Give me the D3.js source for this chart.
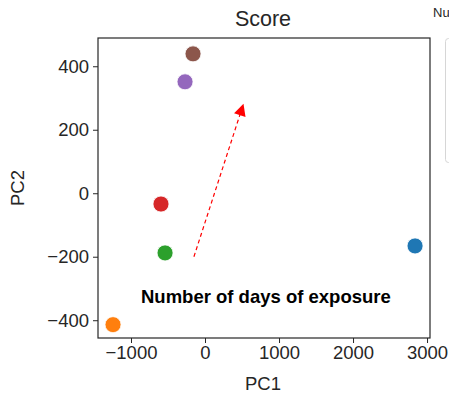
<!DOCTYPE html>
<html>
<head>
<meta charset="utf-8">
<script src="https://cdn.jsdelivr.net/npm/d3@7"></script>
<style>
  body { margin: 0; background: #fff; }
  text { font-family: "Liberation Sans", Arial, sans-serif; fill: #262626; }
</style>
</head>
<body>
<svg id="chart" width="449" height="394"></svg>
<script>
// sample scores on the first two components
const samples = ["s1", "s2", "s3", "s4", "s5", "s6"];
const pc1 = [2838, -1243, -540, -595, -270, -162];
const pc2 = [-166, -414, -188, -34, 351, 439];
const colours = ["#1f77b4", "#ff7f0e", "#2ca02c", "#d62728", "#9467bd", "#8c564b"];

const xTicks = [-1000, 0, 1000, 2000, 3000];
const yTicks = [-400, -200, 0, 200, 400];

// arrow start / end in data units
const arrowFrom = [-150, -200];
const arrowTo = [520, 282];
const noteText = "Number of days of exposure";
const notePos = [-865, -345];

const margin = { top: 38, right: 19, bottom: 56, left: 98 };
const width = 449, height = 394;

const svg = d3.select("#chart");

const x = d3.scaleLinear()
    .domain([-1446, 3040])
    .range([margin.left, width - margin.right]);
const y = d3.scaleLinear()
    .domain([-456, 489])
    .range([height - margin.bottom, margin.top]);

// legend frame that sits past the edge of the figure
svg.append("rect")
    .attr("x", 445.5).attr("y", 38.5)
    .attr("width", 40).attr("height", 124)
    .attr("rx", 3)
    .attr("fill", "#fff")
    .attr("stroke", "#d6d6d6");
svg.append("text")
    .attr("x", 433).attr("y", 17)
    .attr("font-size", 13)
    .text("Nu");

const fmt = d => d3.format("d")(d).replace("-", "\u2212");

// axes
const xAxis = svg.append("g")
    .attr("transform", `translate(0,${height - margin.bottom})`)
    .call(d3.axisBottom(x).tickValues(xTicks).tickSize(5).tickPadding(3).tickFormat(fmt));
const yAxis = svg.append("g")
    .attr("transform", `translate(${margin.left},0)`)
    .call(d3.axisLeft(y).tickValues(yTicks).tickSize(5).tickPadding(4).tickFormat(fmt));

[xAxis, yAxis].forEach(a => {
    a.select(".domain").remove();
    a.selectAll("line").attr("stroke", "#262626").attr("stroke-width", 1);
    a.selectAll("text").attr("font-size", 18.5)
        .attr("font-family", "Liberation Sans, Arial, sans-serif").attr("fill", "#262626");
});

// frame
svg.append("rect")
    .attr("x", margin.left).attr("y", margin.top)
    .attr("width", width - margin.left - margin.right)
    .attr("height", height - margin.top - margin.bottom)
    .attr("fill", "none")
    .attr("stroke", "#262626")
    .attr("stroke-width", 1.2);

// labels
svg.append("text")
    .attr("x", 263).attr("y", 26)
    .attr("text-anchor", "middle").attr("font-size", 21.5)
    .text("Score");
svg.append("text")
    .attr("x", 263).attr("y", 390)
    .attr("text-anchor", "middle").attr("font-size", 18.5)
    .text("PC1");
svg.append("text")
    .attr("transform", `translate(24,${(margin.top + height - margin.bottom) / 2}) rotate(-90)`)
    .attr("text-anchor", "middle").attr("font-size", 18.5)
    .text("PC2");

// arrow
const defs = svg.append("defs");
defs.append("marker")
    .attr("id", "head")
    .attr("viewBox", "0 0 10 10")
    .attr("refX", 10).attr("refY", 5)
    .attr("markerWidth", 14).attr("markerHeight", 12)
    .attr("markerUnits", "userSpaceOnUse")
    .attr("orient", "auto")
  .append("path")
    .attr("d", "M0,0 L10,5 L0,10 Z")
    .attr("fill", "red");

svg.append("line")
    .attr("x1", x(arrowFrom[0])).attr("y1", y(arrowFrom[1]))
    .attr("x2", x(arrowTo[0])).attr("y2", y(arrowTo[1]))
    .attr("stroke", "red")
    .attr("stroke-width", 1.2)
    .attr("stroke-dasharray", "4,3")
    .attr("marker-end", "url(#head)");

// points
svg.append("g").selectAll("circle")
    .data(samples)
  .join("circle")
    .attr("cx", (d, i) => x(pc1[i]))
    .attr("cy", (d, i) => y(pc2[i]))
    .attr("r", 8)
    .attr("fill", (d, i) => colours[i])
    .attr("stroke", "#fff")
    .attr("stroke-width", 0.8);

svg.append("text")
    .attr("x", x(notePos[0])).attr("y", y(notePos[1]))
    .attr("font-size", 18.5)
    .attr("font-weight", "bold")
    .style("fill", "#000")
    .text(noteText);
</script>
</body>
</html>
